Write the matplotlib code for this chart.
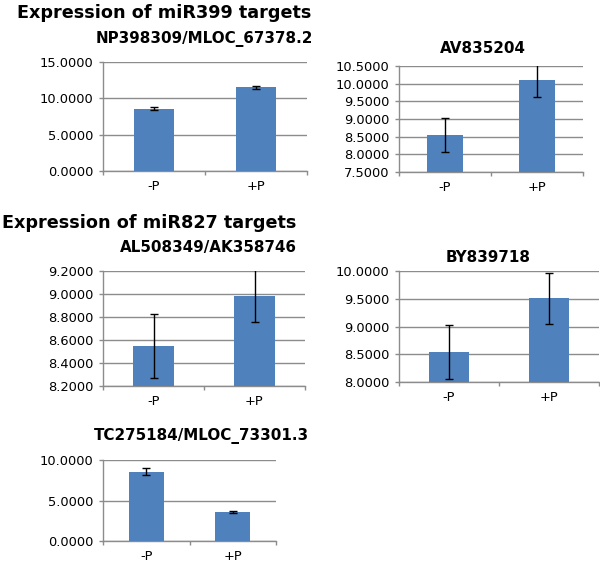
import matplotlib
matplotlib.use("Agg")
import matplotlib.pyplot as plt
from matplotlib.ticker import FixedLocator, FormatStrFormatter

categories = ["-P", "+P"]

np398309_vals = [8.58, 11.50]
np398309_err = [0.17, 0.17]

av835204_vals = [8.55, 10.10]
av835204_err = [0.48, 0.47]

al508349_vals = [8.55, 8.985]
al508349_err = [0.28, 0.23]

by839718_vals = [8.54, 9.51]
by839718_err = [0.48, 0.46]

tc275184_vals = [8.57, 3.58]
tc275184_err = [0.48, 0.16]

W, H = 600, 565
fig = plt.figure(figsize=(W / 100, H / 100), dpi=100)

BAR = "#4F81BD"
GRID = "#8c8c8c"
TICK_FS = 9.4
SUB_FS = 10.9
MAIN_FS = 12.7


def make_panel(box, vals, errs, ymin, ymax, step):
    left, right, top, bottom = box
    ax = fig.add_axes([left / W, 1 - bottom / H, (right - left) / W, (bottom - top) / H])
    x = list(range(len(categories)))
    ax.bar(x, vals, width=0.4, color=BAR, zorder=3)
    ax.errorbar(x, vals, yerr=errs, fmt="none", ecolor="black", elinewidth=1.0,
                capsize=2.6, capthick=1.0, zorder=4)
    ax.set_xlim(-0.5, len(categories) - 0.5)
    ax.set_ylim(ymin, ymax)
    n = int(round((ymax - ymin) / step))
    yt = [ymin + i * step for i in range(n + 1)]
    ax.set_yticks(yt)
    ax.yaxis.set_major_formatter(FormatStrFormatter("%.4f"))
    ax.grid(axis="y", color=GRID, linewidth=1.0, zorder=0)
    ax.set_axisbelow(True)
    for s in ["top", "right"]:
        ax.spines[s].set_visible(False)
    for s in ["left", "bottom"]:
        ax.spines[s].set_color(GRID)
        ax.spines[s].set_linewidth(1.0)
    # x ticks: boundaries major (no labels), centers minor (labels)
    ax.xaxis.set_major_locator(FixedLocator([-0.5 + i for i in range(len(categories) + 1)]))
    ax.xaxis.set_major_formatter(plt.NullFormatter())
    ax.xaxis.set_minor_locator(FixedLocator(x))
    ax.set_xticklabels(categories, minor=True)
    ax.tick_params(axis="x", which="major", length=3, color=GRID, width=1.0)
    ax.tick_params(axis="x", which="minor", length=0, pad=6.5, labelsize=TICK_FS)
    ax.tick_params(axis="y", length=3, color=GRID, width=1.0, pad=4, labelsize=TICK_FS)
    return ax


make_panel((103, 307, 62, 171), np398309_vals, np398309_err, 0.0, 15.0, 5.0)
make_panel((399, 583, 66, 172), av835204_vals, av835204_err, 7.5, 10.5, 0.5)
make_panel((103, 305, 271, 386), al508349_vals, al508349_err, 8.2, 9.2, 0.2)
make_panel((399, 599, 271, 382), by839718_vals, by839718_err, 8.0, 10.0, 0.5)
make_panel((103, 276, 460, 541), tc275184_vals, tc275184_err, 0.0, 10.0, 5.0)


def ftext(x, y, s, size, ha="center"):
    fig.text(x / W, 1 - y / H, s, fontsize=size, fontweight="bold", ha=ha, va="baseline")


ftext(17, 18.5, "Expression of miR399 targets", MAIN_FS, ha="left")
ftext(2, 228.5, "Expression of miR827 targets", MAIN_FS, ha="left")
ftext(204, 42.7, "NP398309/MLOC_67378.2", SUB_FS)
ftext(482.5, 52.7, "AV835204", SUB_FS)
ftext(208, 251.7, "AL508349/AK358746", SUB_FS)
ftext(488, 261.7, "BY839718", SUB_FS)
ftext(201, 440, "TC275184/MLOC_73301.3", SUB_FS)

fig.savefig("out.png", dpi=100)
